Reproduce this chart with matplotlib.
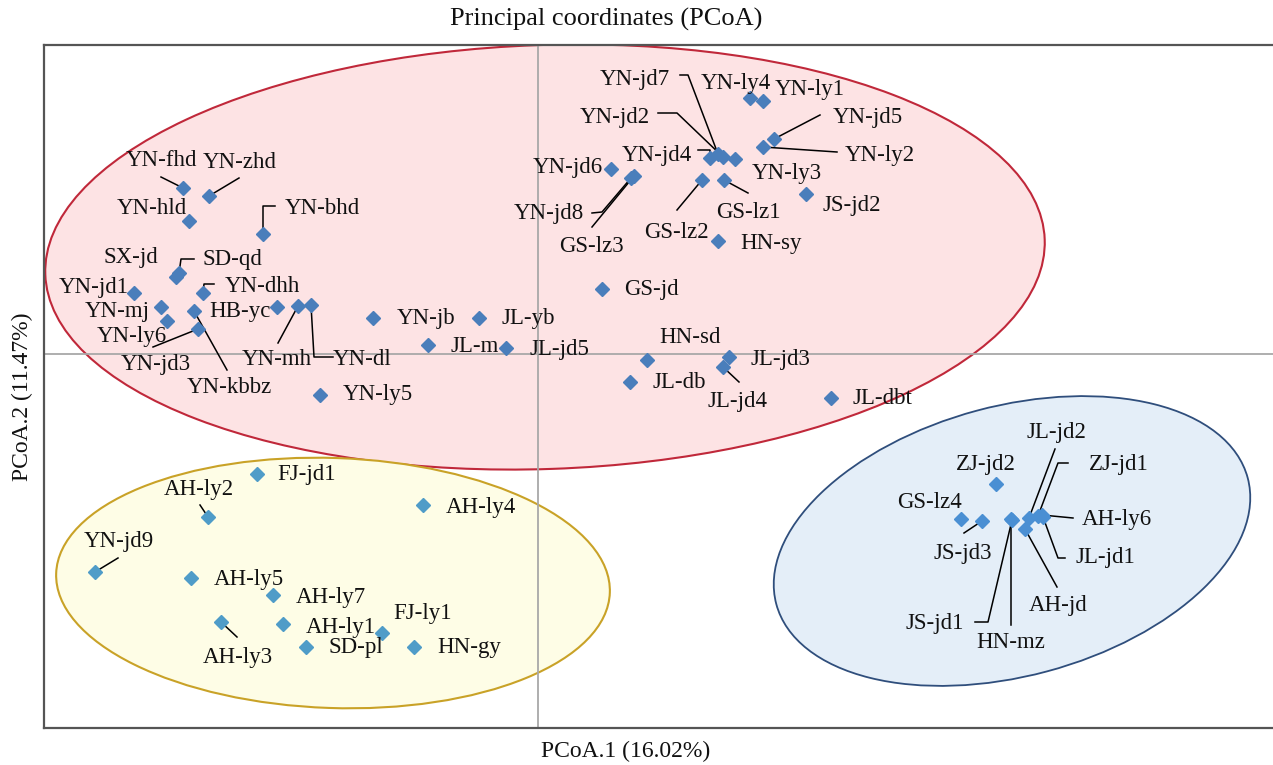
import matplotlib
matplotlib.use("Agg")
import matplotlib.pyplot as plt
from matplotlib.patches import Ellipse

plt.rcParams['font.family'] = ['Liberation Serif', 'DejaVu Serif']

# ---- PCoA scores, grouped by cluster ----
red_names = ["YN-fhd", "YN-zhd", "YN-hld", "YN-bhd", "SX-jd", "SD-qd", "YN-jd1", "YN-dhh",
             "YN-mj", "HB-yc", "YN-kbbz", "YN-ly6", "YN-jd3", "YN-mh", "YN-dl", "YN-ly5",
             "YN-jb", "JL-yb", "JL-m", "JL-jd5", "GS-jd", "HN-sd", "JL-db", "JL-jd3",
             "JL-jd4", "JL-dbt", "YN-ly4", "YN-ly1", "YN-jd5", "YN-ly2", "YN-jd4", "YN-jd7",
             "YN-jd2", "YN-ly3", "YN-jd6", "YN-jd8", "GS-lz3", "GS-lz2", "GS-lz1", "JS-jd2",
             "HN-sy"]
red_pc1 = [-0.355, -0.329, -0.349, -0.275, -0.362, -0.359, -0.404, -0.335,
           -0.377, -0.261, -0.344, -0.371, -0.340, -0.240, -0.227, -0.218,
           -0.165, -0.059, -0.110, -0.032, 0.064, 0.109, 0.092, 0.191,
           0.185, 0.293, 0.212, 0.225, 0.236, 0.225, 0.172, 0.180,
           0.185, 0.197, 0.073, 0.093, 0.096, 0.164, 0.186, 0.268,
           0.180]
red_pc2 = [0.166, 0.158, 0.133, 0.120, 0.077, 0.081, 0.061, 0.061,
           0.047, 0.047, 0.043, 0.033, 0.025, 0.048, 0.049, -0.041,
           0.036, 0.036, 0.009, 0.006, 0.065, -0.006, -0.028, -0.003,
           -0.013, -0.044, 0.256, 0.253, 0.215, 0.207, 0.196, 0.200,
           0.197, 0.195, 0.185, 0.176, 0.178, 0.174, 0.174, 0.160,
           0.113]

yellow_names = ["FJ-jd1", "AH-ly2", "AH-ly4", "YN-jd9", "AH-ly5", "AH-ly7", "AH-ly3",
                "AH-ly1", "FJ-ly1", "SD-pl", "HN-gy"]
yellow_pc1 = [-0.281, -0.330, -0.115, -0.443, -0.347, -0.265, -0.317,
              -0.255, -0.156, -0.232, -0.124]
yellow_pc2 = [-0.120, -0.163, -0.151, -0.218, -0.224, -0.241, -0.268,
              -0.270, -0.279, -0.293, -0.293]

blue_names = ["ZJ-jd2", "GS-lz4", "JS-jd3", "JS-jd1", "HN-mz", "AH-jd", "JL-jd2",
              "ZJ-jd1", "AH-ly6", "JL-jd1"]
blue_pc1 = [0.458, 0.423, 0.444, 0.474, 0.473, 0.487, 0.491, 0.500, 0.504, 0.505]
blue_pc2 = [-0.130, -0.165, -0.167, -0.166, -0.165, -0.175, -0.164, -0.162, -0.161, -0.163]

# ---- layout: label centre offsets from each point (pixels, x right / y down) ----
label_offset = {
    "YN-fhd": (-22, -28), "YN-zhd": (31, -34), "YN-hld": (-37, -13), "YN-bhd": (59, -26),
    "SX-jd": (-45, -19), "SD-qd": (53, -13), "YN-jd1": (-40, -5), "YN-dhh": (59, -6),
    "YN-mj": (-44, 5), "HB-yc": (-37, 5), "YN-kbbz": (35, 77), "YN-ly6": (-35, 16),
    "YN-jd3": (-42, 36), "YN-mh": (-21, 54), "YN-dl": (51, 55), "YN-ly5": (58, 0),
    "YN-jb": (53, 1), "JL-yb": (49, 1), "JL-m": (47, 2), "JL-jd5": (53, 2),
    "GS-jd": (49, 1), "HN-sd": (43, -22), "JL-db": (49, 1), "JL-jd3": (51, 3),
    "JL-jd4": (15, 35), "JL-dbt": (51, 1), "YN-ly4": (-14, -15), "YN-ly1": (47, -11),
    "YN-jd5": (94, -21), "YN-ly2": (117, 8), "YN-jd4": (-53, -3), "YN-jd7": (-83, -74),
    "YN-jd2": (-108, -39), "YN-ly3": (52, 14), "YN-jd6": (-43, -1), "YN-jd8": (-82, 35),
    "GS-lz3": (-43, 71), "GS-lz2": (-26, 52), "GS-lz1": (24, 33), "JS-jd2": (46, 11),
    "HN-sy": (53, 2),
    "FJ-jd1": (50, 1), "AH-ly2": (-9, -27), "AH-ly4": (58, 2), "YN-jd9": (24, -30),
    "AH-ly5": (58, 2), "AH-ly7": (58, 2), "AH-ly3": (17, 35), "AH-ly1": (58, 3),
    "FJ-ly1": (41, -20), "SD-pl": (50, 1), "HN-gy": (55, 1),
    "ZJ-jd2": (-10, -19), "GS-lz4": (-31, -16), "JS-jd3": (-19, 32), "JS-jd1": (-77, 103),
    "HN-mz": (0, 124), "AH-jd": (33, 76), "JL-jd2": (27, -85), "ZJ-jd1": (81, -51),
    "AH-ly6": (75, 5), "JL-jd1": (62, 41),
}

# leader-line vertices relative to each point (pixels), ending at the point itself
leaders = {
    "YN-fhd": [(-22, -11)], "YN-zhd": [(30, -18)], "YN-bhd": [(12, -28), (0, -28)],
    "SD-qd": [(15, -14), (2, -14)], "YN-dhh": [(11, -9), (1, -9)], "YN-jd3": [(-45, 18)],
    "YN-kbbz": [(33, 59)], "YN-mh": [(-20, 37)], "YN-dl": [(22, 52), (3, 52)],
    "YN-jd7": [(-38, -79), (-30, -79)], "YN-jd2": [(-65, -44), (-46, -44)],
    "YN-jd4": [(-12, -8), (0, -8)], "YN-jd5": [(46, -24)], "YN-ly2": [(74, 5)],
    "YN-jd8": [(-39, 35), (-29, 34)], "GS-lz3": [(-42, 51)], "GS-lz2": [(-25, 30)],
    "GS-lz1": [(24, 13)], "JL-jd4": [(16, 15)],
    "AH-ly2": [(-8, -12)], "YN-jd9": [(23, -14)], "AH-ly3": [(16, 15)],
    "JL-jd2": [(26, -69)], "ZJ-jd1": [(30, -53), (20, -53)], "AH-ly6": [(31, 3)],
    "JL-jd1": [(22, 41), (15, 41)], "AH-jd": [(32, 58)], "JS-jd1": [(-37, 102), (-24, 102)],
    "HN-mz": [(0, 106)], "JS-jd3": [(-18, 12)],
}

W, H = 1273, 765
fig = plt.figure(figsize=(W / 100, H / 100), dpi=100)
ax_l, ax_b, ax_w, ax_h = 44, 37, 1229, 683
ax = fig.add_axes([ax_l / W, ax_b / H, ax_w / W, ax_h / H])
xlim = (-0.494, 0.735)
ylim = (-0.374, 0.309)
ax.set_xlim(*xlim)
ax.set_ylim(*ylim)
ux = (xlim[1] - xlim[0]) / ax_w
uy = (ylim[1] - ylim[0]) / ax_h

ax.set_xticks([])
ax.set_yticks([])
for side in ("top", "bottom", "left"):
    ax.spines[side].set_color("#555555")
    ax.spines[side].set_linewidth(1.6)
ax.spines["right"].set_visible(False)

# cluster ellipses
ax.add_patch(Ellipse((0.007, 0.097), 1.000, 0.424, angle=2,
                     facecolor="#fde3e4", edgecolor="#c0283a", lw=1.5, zorder=1))
ax.add_patch(Ellipse((-0.205, -0.229), 0.554, 0.250, angle=-2,
                     facecolor="#fefde6", edgecolor="#c9a227", lw=1.5, zorder=1))
ax.add_patch(Ellipse((0.474, -0.187), 0.488, 0.270, angle=15,
                     facecolor="#e4eef8", edgecolor="#2f4e7c", lw=1.3, zorder=1))

ax.axhline(0, color="#a8a8a8", lw=1.3, zorder=2)
ax.axvline(0, color="#a8a8a8", lw=1.3, zorder=2)

groups = [
    (red_names, red_pc1, red_pc2, "#4a7ebb"),
    (yellow_names, yellow_pc1, yellow_pc2, "#4f9cc8"),
    (blue_names, blue_pc1, blue_pc2, "#4a8fd3"),
]

for names, xs, ys, color in groups:
    ax.plot(xs, ys, linestyle="none", marker="D", markersize=7.4,
            markerfacecolor=color, markeredgecolor=color, zorder=4)
    for name, x, y in zip(names, xs, ys):
        if name in leaders:
            pts = leaders[name] + [(0, 0)]
            lx = [x + dx * ux for dx, dy in pts]
            ly = [y - dy * uy for dx, dy in pts]
            ax.plot(lx, ly, color="black", lw=1.1, zorder=3)
        dx, dy = label_offset[name]
        ax.annotate(name, (x, y), xytext=(dx, -dy), textcoords="offset pixels",
                    ha="center", va="center", fontsize=16.5, color="#111111", zorder=5)

fig.text(606 / W, 1 - 19 / H, "Principal coordinates (PCoA)", ha="center", va="center",
         fontsize=19, color="#111111")
fig.text(626 / W, 1 - 751 / H, "PCoA.1 (16.02%)", ha="center", va="center",
         fontsize=17, color="#111111")
fig.text(22 / W, 1 - 397 / H, "PCoA.2 (11.47%)", ha="center", va="center",
         rotation=90, fontsize=17, color="#111111")

fig.savefig("out.png", dpi=100)
